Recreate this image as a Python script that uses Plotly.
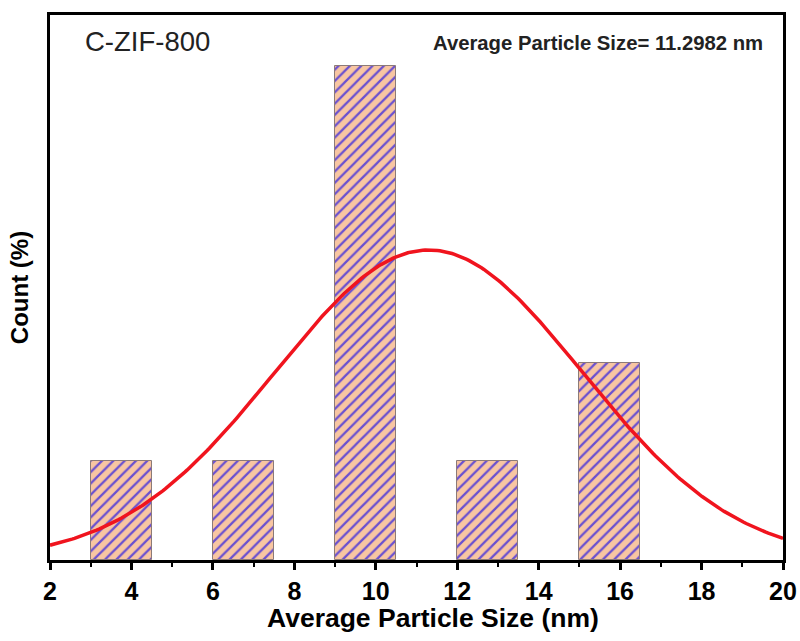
import numpy as np
import plotly.graph_objects as go

# Histogram bins (nm) and counts
bin_left = [3.0, 6.0, 9.0, 12.0, 15.0]
bin_width = 1.5
counts = [1, 1, 5, 1, 2]

# Gaussian fit parameters
fit_mean = 11.2982
fit_sigma = 3.77
fit_amp = 3.14

x_ticks = [2, 4, 6, 8, 10, 12, 14, 16, 18, 20]

font_family = "Arial, Liberation Sans, sans-serif"

centers = [b + bin_width / 2 for b in bin_left]
xs = np.linspace(2, 20, 300)
ys = fit_amp * np.exp(-(xs - fit_mean) ** 2 / (2 * fit_sigma ** 2))

fig = go.Figure()
fig.add_trace(go.Bar(
    x=centers, y=counts, width=bin_width,
    marker=dict(
        color="#F8C6A2",
        line=dict(color="#8C7A78", width=1),
        pattern=dict(shape="/", fgcolor="#6A50D0", bgcolor="#F8C6A2",
                     size=8, solidity=0.28, fillmode="replace"),
    ),
    showlegend=False,
))
fig.add_trace(go.Scatter(
    x=xs, y=ys, mode="lines",
    line=dict(color="#F0141E", width=3.5),
    showlegend=False,
))

fig.update_layout(
    width=800, height=641,
    margin=dict(l=50, r=17, t=15, b=81, autoexpand=False),
    paper_bgcolor="white", plot_bgcolor="white",
    font=dict(family=font_family, color="black"),
    bargap=0,
    xaxis=dict(
        range=[2, 20], tickvals=x_ticks, ticktext=[str(v) for v in x_ticks],
        automargin=False,
        ticks="outside", ticklen=7, tickwidth=2.5, tickcolor="black",
        minor=dict(tickvals=[3, 5, 7, 9, 11, 13, 15, 17, 19], ticks="outside",
                   ticklen=4, tickwidth=2, tickcolor="black"),
        showline=True, linewidth=3, linecolor="black", mirror=True,
        showgrid=False, zeroline=False,
        tickfont=dict(size=25, weight="bold", family=font_family),
    ),
    yaxis=dict(
        range=[0, 5.52], showticklabels=False, ticks="",
        automargin=False,
        showline=True, linewidth=3, linecolor="black", mirror=True,
        showgrid=False, zeroline=False,
        title=dict(text="Count (%)", standoff=12,
                   font=dict(size=24, weight="bold", family=font_family)),
    ),
    annotations=[
        dict(text="Average Particle Size (nm)", xref="paper", yref="paper",
             x=0.5225, y=-0.106, xanchor="center", yanchor="middle",
             showarrow=False,
             font=dict(size=26.5, weight="bold", family=font_family, color="black")),
        dict(text="C-ZIF-800", xref="paper", yref="paper", x=0.045, y=0.952,
             xanchor="left", yanchor="middle", showarrow=False,
             font=dict(size=27.5, family=font_family, color="#222")),
        dict(text="Average Particle Size= 11.2982 nm", xref="paper", yref="paper",
             x=0.975, y=0.948, xanchor="right", yanchor="middle", showarrow=False,
             font=dict(size=20.3, weight="bold", family=font_family, color="#222")),
    ],
)

fig.write_html("out.html")
